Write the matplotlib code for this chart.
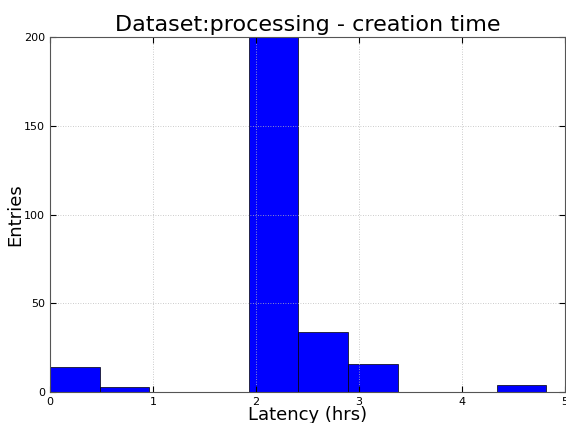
import matplotlib
matplotlib.use("Agg")
import matplotlib.pyplot as plt

# histogram bins (hours) and counts
bin_edges = [0.0, 0.482, 0.964, 1.446, 1.928, 2.41, 2.892, 3.374, 3.856, 4.338, 4.82]
counts = [14, 3, 0, 0, 230, 34, 16, 0, 0, 4]

fig = plt.figure(figsize=(5.66, 4.23), dpi=100, facecolor="white")
ax = fig.add_axes([0.0883, 0.0733, 0.91, 0.8392])

widths = [bin_edges[i + 1] - bin_edges[i] for i in range(len(counts))]
ax.bar(bin_edges[:-1], counts, width=widths, align="edge",
       color="blue", edgecolor="black", linewidth=0.5)

ax.set_xlim(0, 5)
ax.set_ylim(0, 200)
ax.set_xticks([0, 1, 2, 3, 4, 5])
ax.set_yticks([0, 50, 100, 150, 200])
ax.grid(True, linestyle=(0, (1, 2)), color="#bbbbbb", linewidth=0.6)
ax.set_axisbelow(False)
ax.tick_params(direction="in", top=True, right=True, labelsize=8, length=4)
for s in ax.spines.values():
    s.set_color("#555555")
    s.set_zorder(5)

ax.set_title("Dataset:processing - creation time", fontsize=16, pad=4)
ax.set_xlabel("Latency (hrs)", fontsize=13, labelpad=-0.5)
ax.set_ylabel("Entries", fontsize=13, labelpad=0)

fig.savefig("out.png", dpi=100, facecolor="white")
